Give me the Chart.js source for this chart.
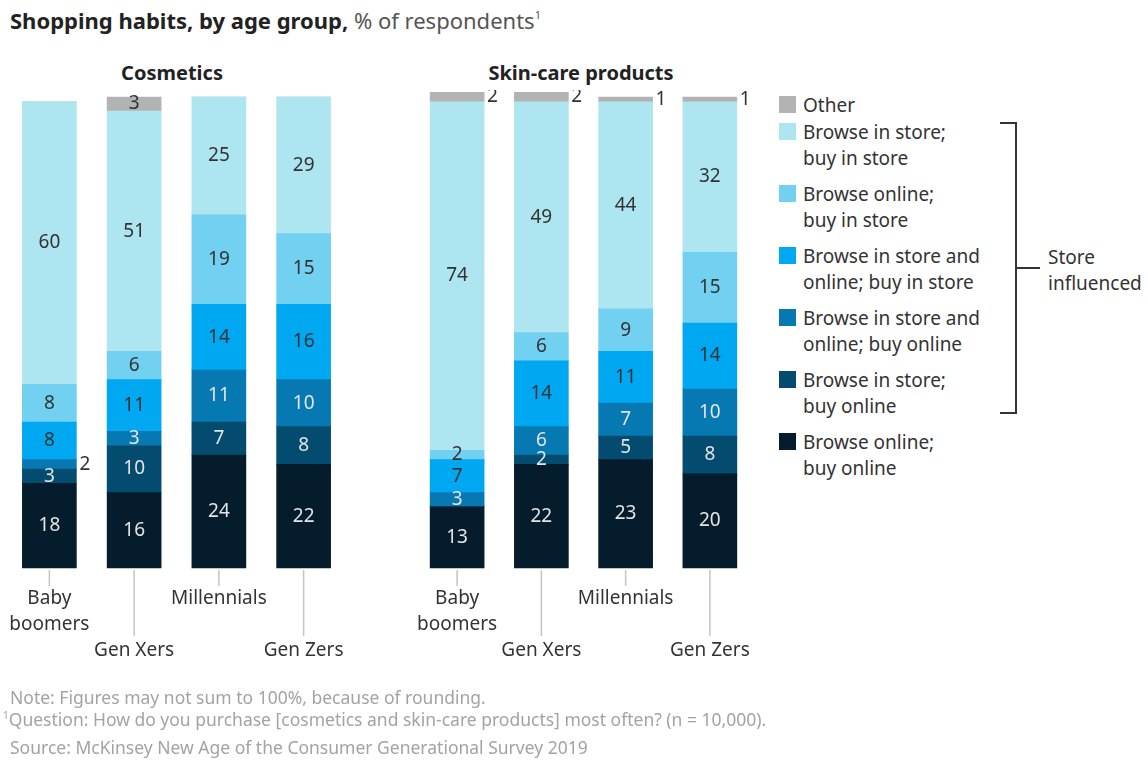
<!DOCTYPE html>
<html>
<head>
<meta charset="utf-8">
<script src="https://cdn.jsdelivr.net/npm/chart.js@4.4.1/dist/chart.umd.min.js"></script>
<style>
  body { margin: 0; background: #fff; font-family: "Noto Sans", sans-serif; color: #333; }
  #wrap { position: relative; width: 1148px; height: 763px; overflow: hidden; }
  #title { position: absolute; left: 10px; top: 5px; font-size: 22px; color: #222; white-space: nowrap; }
  #title b { font-weight: 700; }
  #title span { color: #555; }
  #title sup { font-size: 11px; vertical-align: 10px; }
  .sub { position: absolute; top: 59px; font-size: 20px; font-weight: 700; color: #222; white-space: nowrap; transform: translateX(-50%); }
  .box { position: absolute; top: 90px; height: 600px; }
  #legend { position: absolute; left: 779px; top: 0; }
  .item { position: absolute; left: 0; white-space: nowrap; font-size: 19px; line-height: 26px; }
  .item i { position: absolute; left: 0; top: 4px; width: 17px; height: 17px; }
  .item div { margin-left: 24px; }
  .br { position: absolute; background: #333; }
  #store { position: absolute; left: 1048px; top: 244px; font-size: 19px; line-height: 26px; }
  .note { position: absolute; left: 10px; font-size: 17.5px; color: #a3a3a3; white-space: nowrap; }
  .note sup { font-size: 10px; vertical-align: 7px; }
</style>
</head>
<body>
<div id="wrap">
  <div id="title"><b>Shopping habits, by age group,</b> <span>% of respondents<sup>1</sup></span></div>
  <div class="sub" style="left:172px">Cosmetics</div>
  <div class="sub" style="left:581px">Skin-care products</div>
  <div class="box" style="left:-20px;width:385px"><canvas id="c1"></canvas></div>
  <div class="box" style="left:380px;width:390px"><canvas id="c2"></canvas></div>
  <div id="legend"></div>
  <div class="br" style="left:1015px;top:122px;width:2px;height:292px"></div>
  <div class="br" style="left:1000px;top:122px;width:17px;height:2px"></div>
  <div class="br" style="left:1000px;top:412px;width:17px;height:2px"></div>
  <div class="br" style="left:1015px;top:267px;width:25px;height:2px"></div>
  <div id="store">Store<br>influenced</div>
  <div class="note" style="top:685px">Note: Figures may not sum to 100%, because of rounding.</div>
  <div class="note" style="top:707px;left:3px"><sup>1</sup>Question: How do you purchase [cosmetics and skin-care products] most often? (n = 10,000).</div>
  <div class="note" style="top:735px">Source: McKinsey New Age of the Consumer Generational Survey 2019</div>
</div>
<script>
const ageLabels = [['Baby', 'boomers'], ['', '', 'Gen Xers'], ['Millennials'], ['', '', 'Gen Zers']];

// series, bottom to top
const seriesNames = [
  ['Browse online;', 'buy online'],
  ['Browse in store;', 'buy online'],
  ['Browse in store and', 'online; buy online'],
  ['Browse in store and', 'online; buy in store'],
  ['Browse online;', 'buy in store'],
  ['Browse in store;', 'buy in store'],
  ['Other']
];
const seriesColors = ['#051c2c', '#034b6f', '#0679b3', '#00a8f2', '#72d0f0', '#ade6f0', '#b3b3b3'];
const darkText = [false, false, false, true, true, true, true];

// Cosmetics
const cosOnlineOnline = [18, 16, 24, 22];
const cosStoreOnline  = [3, 10, 7, 8];
const cosBothOnline   = [2, 3, 11, 10];
const cosBothStore    = [8, 11, 14, 16];
const cosOnlineStore  = [8, 6, 19, 15];
const cosStoreStore   = [60, 51, 25, 29];
const cosOther        = [0, 3, 0, 0];

// Skin-care products
const skinOnlineOnline = [13, 22, 23, 20];
const skinStoreOnline  = [0, 2, 5, 8];
const skinBothOnline   = [3, 6, 7, 10];
const skinBothStore    = [7, 14, 11, 14];
const skinOnlineStore  = [2, 6, 9, 15];
const skinStoreStore   = [74, 49, 44, 32];
const skinOther        = [2, 2, 1, 1];

// labels drawn beside the bar instead of inside: [series, bar]
const cosOutside = [[2, 0]];
const skinOutside = [[6, 0], [6, 1], [6, 2], [6, 3]];

// legend, top to bottom
const legendBox = document.getElementById('legend');
let legendY = 92;
for (let s = seriesNames.length - 1; s >= 0; s--) {
  const el = document.createElement('div');
  el.className = 'item';
  el.style.top = legendY + 'px';
  el.innerHTML = '<i style="background:' + seriesColors[s] + '"></i><div>' + seriesNames[s].join('<br>') + '</div>';
  legendBox.appendChild(el);
  legendY += seriesNames[s].length === 1 ? 27 : 62;
}

const valueLabels = {
  id: 'valueLabels',
  afterDatasetsDraw(chart, args, opts) {
    const ctx = chart.ctx;
    ctx.save();
    ctx.font = '19px "Noto Sans"';
    ctx.textBaseline = 'middle';
    chart.data.datasets.forEach((ds, s) => {
      chart.getDatasetMeta(s).data.forEach((bar, i) => {
        const v = ds.data[i];
        if (!v) return;
        const y = (bar.y + bar.base) / 2;
        const out = opts.outside.some(p => p[0] === s && p[1] === i);
        if (out) {
          ctx.fillStyle = '#333';
          ctx.textAlign = 'left';
          ctx.fillText(v, bar.x + bar.width / 2 + 3, y);
        } else {
          ctx.fillStyle = darkText[s] ? '#333' : '#e4e4e4';
          ctx.textAlign = 'center';
          ctx.fillText(v, bar.x, y);
        }
      });
    });
    // leader lines to the category labels
    const x = chart.scales.x;
    ctx.strokeStyle = '#c4c4c4';
    ctx.lineWidth = 1.5;
    ageLabels.forEach((lab, i) => {
      const px = x.getPixelForValue(i);
      const end = lab.length === 3 ? 636 - 90 : 586 - 90;
      ctx.beginPath();
      ctx.moveTo(px, chart.chartArea.bottom + 2);
      ctx.lineTo(px, end);
      ctx.stroke();
    });
    ctx.restore();
  }
};

function makeChart(id, series, outside, pad) {
  new Chart(document.getElementById(id), {
    type: 'bar',
    data: {
      labels: ageLabels,
      datasets: series.map((d, s) => ({
        label: seriesNames[s].join(' '),
        data: d,
        backgroundColor: seriesColors[s],
        borderWidth: 0,
        barThickness: 54,
        clip: false
      }))
    },
    options: {
      responsive: true,
      maintainAspectRatio: false,
      animation: false,
      layout: { padding: { left: pad[0], right: pad[1], top: 7, bottom: 0 } },
      plugins: { legend: { display: false }, tooltip: { enabled: false }, valueLabels: { outside: outside } },
      scales: {
        x: {
          stacked: true,
          grid: { display: false, drawTicks: false },
          border: { display: false },
          ticks: { color: '#333', padding: 18, font: { family: 'Noto Sans', size: 19, lineHeight: '26px' }, maxRotation: 0, autoSkip: false },
          afterFit: sc => { sc.height = 122; }
        },
        y: { stacked: true, display: false, min: 0, max: 100 }
      }
    },
    plugins: [valueLabels]
  });
}

makeChart('c1', [cosOnlineOnline, cosStoreOnline, cosBothOnline, cosBothStore, cosOnlineStore, cosStoreStore, cosOther], cosOutside, [27, 19]);
makeChart('c2', [skinOnlineOnline, skinStoreOnline, skinBothOnline, skinBothStore, skinOnlineStore, skinStoreStore, skinOther], skinOutside, [35, 18]);
</script>
</body>
</html>
